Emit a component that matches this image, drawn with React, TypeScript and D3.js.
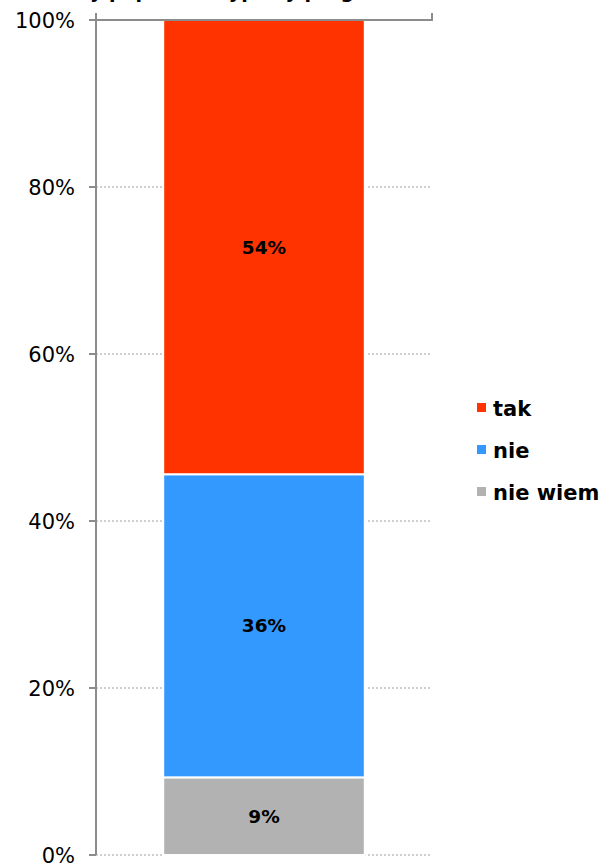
import React from "react";
import * as d3 from "d3";

const categories = ["Odpowiedź"];
const seriesNames = ["nie wiem", "nie", "tak"];
const seriesColors = ["#B2B2B2", "#3399FF", "#FF3300"];
const seriesValues = [9.3, 36.3, 54.4];
const seriesLabels = ["9%", "36%", "54%"];
const yTicks = [0, 20, 40, 60, 80, 100];
const title = "Czy popierasz typowy program?";

const W = 605;
const H = 863;
const left = 96;
const right = 432;
const top = 20;
const bottom = 855;

export default function App() {
  const y = d3.scaleLinear().domain([0, 100]).range([bottom, top]);
  const x = d3.scaleBand<string>().domain(categories).range([left, right]).paddingInner(0.4).paddingOuter(0.2);
  const fmt = (v: number) => `${v}%`;
  let acc = 0;
  const stacks = seriesValues.map((v, i) => {
    const s = { y0: acc, y1: acc + v, i };
    acc += v;
    return s;
  });
  const bx = x(categories[0]) as number;
  const bw = x.bandwidth();
  const axisColor = "#8C8C8C";
  const font = "'DejaVu Sans', Verdana, sans-serif";
  const legendOrder = [2, 1, 0];
  return (
    <svg width={W} height={H} style={{ position: "absolute", left: 0, top: 0, background: "#fff" }} fontFamily={font}>
      <text x={236} y={-2} textAnchor="middle" fontWeight="bold" fontSize={19} fill="#000">{title}</text>
      {yTicks.map((t) => (
        <g key={t}>
          {t !== 100 && (
            <line x1={left} x2={right} y1={y(t)} y2={y(t)} stroke="#A0A0A0" strokeWidth={1} strokeDasharray="2,2" />
          )}
          <line x1={left - 7} x2={left} y1={y(t)} y2={y(t)} stroke={axisColor} strokeWidth={2} />
          <text x={75} y={y(t)} dy="0.36em" textAnchor="end" fontSize={21} fill="#000">{fmt(t)}</text>
        </g>
      ))}
      {stacks.map((s) => (
        <rect key={s.i} x={bx} width={bw} y={y(s.y1)} height={y(s.y0) - y(s.y1)} fill={seriesColors[s.i]} stroke="#fff" strokeWidth={2} />
      ))}
      {stacks.map((s) => (
        <text key={"l" + s.i} x={bx + bw / 2} y={(y(s.y0) + y(s.y1)) / 2} dy="0.36em" textAnchor="middle" fontWeight="bold" fontSize={18.5} fill="#000">
          {seriesLabels[s.i]}
        </text>
      ))}
      <line x1={left} x2={left} y1={13} y2={bottom} stroke={axisColor} strokeWidth={2} />
      <line x1={left - 7} x2={right} y1={y(100)} y2={y(100)} stroke={axisColor} strokeWidth={2} />
      <line x1={right} x2={right} y1={13} y2={y(100) + 1} stroke={axisColor} strokeWidth={2} />
      {legendOrder.map((si, k) => {
        const ly = 408 + k * 42;
        return (
          <g key={"lg" + si}>
            <rect x={477} y={ly - 5} width={9} height={9} fill={seriesColors[si]} />
            <text x={493} y={ly} dy="0.36em" fontWeight="bold" fontSize={21} fill="#000">{seriesNames[si]}</text>
          </g>
        );
      })}
    </svg>
  );
}
